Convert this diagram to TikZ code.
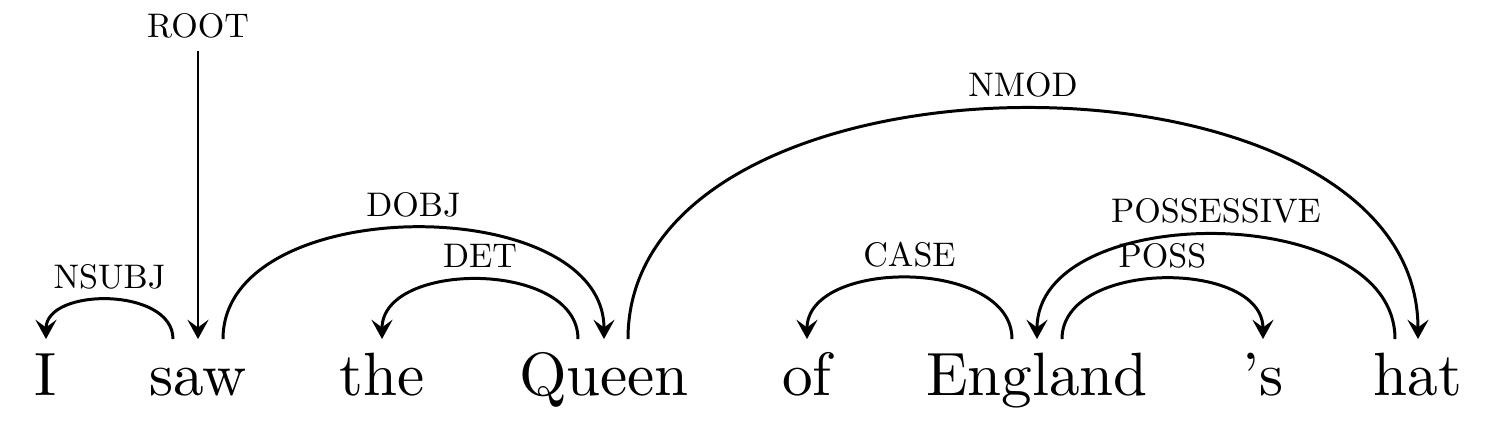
\documentclass[tikz,border=0pt]{standalone}
\usepackage{fontspec}
\usetikzlibrary{arrows.meta}
\newfontfamily\wordfont{lmroman10-regular}[Extension=.otf, Ligatures=TeX] % 10pt design, scaled up

\begin{document}
\begin{tikzpicture}[
  word/.style={font=\wordfont\fontsize{17.4}{20}\selectfont, anchor=base, inner xsep=0pt, inner ysep=4pt, text height=12pt},
  rel/.style={font=\wordfont\fontsize{9.7}{11}\selectfont, anchor=base, inner sep=0pt, yshift=1.2mm},
  arc/.style={line width=0.85pt, -{Stealth[length=5.5pt,width=6pt,inset=2.2pt]}}]
\useasboundingbox (0,0) rectangle (15,4.37);

% the sentence
\node[word] (I) at (0.46,0.41) {I};
\node[word] (saw) at (1.98,0.41) {saw};
\node[word] (the) at (3.82,0.41) {the};
\node[word] (Queen) at (6.04,0.41) {Queen};
\node[word] (of) at (8.07,0.41) {of};
\node[word] (England) at (10.37,0.41) {England};
\node[word] (s) at (12.63,0.41) {'s};
\node[word] (hat) at (14.18,0.41) {hat};

% root
\node[rel] (root) at (1.98,3.87) {ROOT};
\draw[arc] ([yshift=-1.3mm]root.base) -- (saw.north);

% arcs, control height = 4/3 of the peak
\draw[arc] ([xshift=-2.5mm]saw.north) .. controls +(0,0.52) and +(0,0.52) .. (I.north) node[rel,midway] {NSUBJ};
\draw[arc] ([xshift=2.5mm]saw.north) .. controls +(0,1.48) and +(0,1.48) .. (Queen.north) node[rel,midway] {DOBJ};
\draw[arc] ([xshift=-2.6mm]Queen.north) .. controls +(0,0.79) and +(0,0.79) .. (the.north) node[rel,midway] {DET};
\draw[arc] ([xshift=2.4mm]Queen.north) .. controls +(0,3.07) and +(0,3.07) .. (hat.north) node[rel,midway] {NMOD};
\draw[arc] ([xshift=-2.5mm]England.north) .. controls +(0,0.81) and +(0,0.81) .. (of.north) node[rel,midway] {CASE};
\draw[arc] ([xshift=2.5mm]England.north) .. controls +(0,0.80) and +(0,0.80) .. (s.north) node[rel,midway] {POSS};
\draw[arc] ([xshift=-2.3mm]hat.north) .. controls +(0,1.39) and +(0,1.39) .. (England.north) node[rel,midway] {POSSESSIVE};
\end{tikzpicture}
\end{document}
